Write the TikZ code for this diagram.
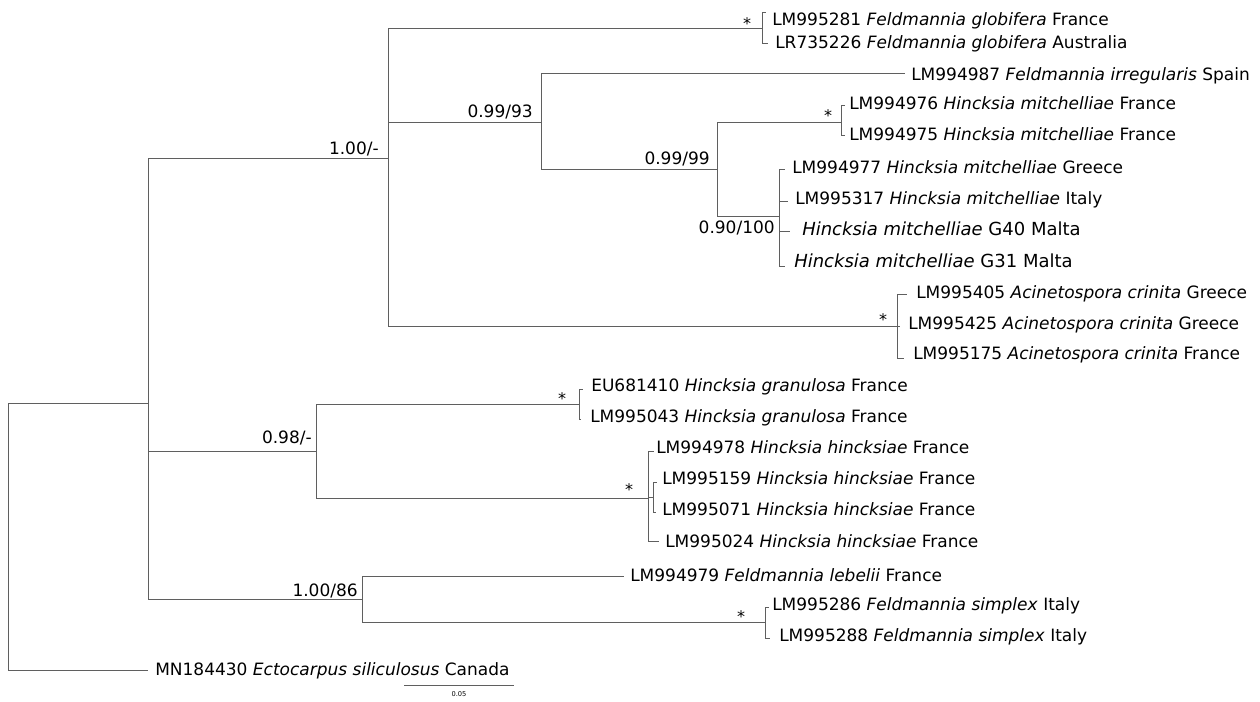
\documentclass[tikz,border=0pt]{standalone}
\usepackage{fontspec}
\setmainfont{DejaVu Sans}
\definecolor{lg}{RGB}{95,95,95}
\begin{document}
\begin{tikzpicture}[x=0.75pt,y=-0.75pt,
  br/.style={draw=lg, line width=0.75pt},
  lab/.style={anchor=west, inner sep=0pt, text height=9.5pt, text depth=2.5pt, font=\fontsize{12.75}{15}\selectfont},
  mlab/.style={anchor=west, inner sep=0pt, text height=10pt, text depth=2.6pt, font=\fontsize{13.5}{16}\selectfont},
  supp/.style={anchor=east, inner sep=0pt, text height=9.5pt, text depth=2.5pt, font=\fontsize{12.75}{15}\selectfont},
  star/.style={inner sep=0pt, font=\fontsize{12}{14}\selectfont}]
\useasboundingbox (0,0) rectangle (1260,702);
% internal nodes
\coordinate (R) at (8,536);
\coordinate (A) at (148,403);
\coordinate (B) at (388,159);
\coordinate (C) at (541,123);
\coordinate (D) at (717,170);
\coordinate (E) at (779,217);
\coordinate (F) at (316,451);
\coordinate (G) at (648,498);
\coordinate (H) at (653,497);
\coordinate (I) at (362,599);
\coordinate (glo) at (762,29);
\coordinate (mfr) at (841,123);
\coordinate (aci) at (897,326);
\coordinate (gra) at (579,404);
\coordinate (sim) at (765,622);
% tips
\coordinate (t1) at (766,13);
\coordinate (t2) at (768,44);
\coordinate (t3) at (905,74);
\coordinate (t4) at (845,106);
\coordinate (t5) at (845,136);
\coordinate (t6) at (785,170);
\coordinate (t7) at (788,202);
\coordinate (t8) at (790,232);
\coordinate (t9) at (785,267);
\coordinate (t10) at (907,295);
\coordinate (t11) at (900,326);
\coordinate (t12) at (904,358);
\coordinate (t13) at (583,389);
\coordinate (t14) at (581,419);
\coordinate (t15) at (654,451);
\coordinate (t16) at (657,482);
\coordinate (t17) at (656,512);
\coordinate (t18) at (659,541);
\coordinate (t19) at (624,576);
\coordinate (t20) at (769,607);
\coordinate (t21) at (770,638);
\coordinate (t22) at (148,670);
% branches
\draw[br] (R) |- (A);
\draw[br] (R) |- (t22);
\draw[br] (A) |- (B);
\draw[br] (A) |- (F);
\draw[br] (A) |- (I);
\draw[br] (B) |- (glo);
\draw[br] (B) |- (C);
\draw[br] (B) |- (aci);
\draw[br] (glo) |- (t1);
\draw[br] (glo) |- (t2);
\draw[br] (C) |- (t3);
\draw[br] (C) |- (D);
\draw[br] (D) |- (mfr);
\draw[br] (D) |- (E);
\draw[br] (mfr) |- (t4);
\draw[br] (mfr) |- (t5);
\draw[br] (E) |- (t6);
\draw[br] (E) |- (t7);
\draw[br] (E) |- (t8);
\draw[br] (E) |- (t9);
\draw[br] (aci) |- (t10);
\draw[br] (aci) -- (t11);
\draw[br] (aci) |- (t12);
\draw[br] (F) |- (gra);
\draw[br] (F) |- (G);
\draw[br] (gra) |- (t13);
\draw[br] (gra) |- (t14);
\draw[br] (G) |- (t15);
\draw[br] (G) |- (H);
\draw[br] (G) |- (t18);
\draw[br] (H) |- (t16);
\draw[br] (H) |- (t17);
\draw[br] (I) |- (t19);
\draw[br] (I) |- (sim);
\draw[br] (sim) |- (t20);
\draw[br] (sim) |- (t21);
% tip labels
\node[lab] (l1) at (772,21) {LM995281 \textit{Feldmannia globifera} France};
\node[lab] (l2) at (775,44) {LR735226 \textit{Feldmannia globifera} Australia};
\node[lab] (l3) at (911,76) {LM994987 \textit{Feldmannia irregularis} Spain};
\node[lab] (l4) at (849,105) {LM994976 \textit{Hincksia mitchelliae} France};
\node[lab] (l5) at (849,136) {LM994975 \textit{Hincksia mitchelliae} France};
\node[lab] (l6) at (792,169) {LM994977 \textit{Hincksia mitchelliae} Greece};
\node[lab] (l7) at (795,199.5) {LM995317 \textit{Hincksia mitchelliae} Italy};
\node[mlab] (l8) at (802,231) {\textit{Hincksia mitchelliae} G40 Malta};
\node[mlab] (l9) at (794,263) {\textit{Hincksia mitchelliae} G31 Malta};
\node[lab] (l10) at (916,293.5) {LM995405 \textit{Acinetospora crinita} Greece};
\node[lab] (l11) at (908,324.5) {LM995425 \textit{Acinetospora crinita} Greece};
\node[lab] (l12) at (913,355) {LM995175 \textit{Acinetospora crinita} France};
\node[lab] (l13) at (591,387) {EU681410 \textit{Hincksia granulosa} France};
\node[lab] (l14) at (590,418) {LM995043 \textit{Hincksia granulosa} France};
\node[lab] (l15) at (656,449) {LM994978 \textit{Hincksia hincksiae} France};
\node[lab] (l16) at (662,480) {LM995159 \textit{Hincksia hincksiae} France};
\node[lab] (l17) at (662,511) {LM995071 \textit{Hincksia hincksiae} France};
\node[lab] (l18) at (665,543) {LM995024 \textit{Hincksia hincksiae} France};
\node[lab] (l19) at (630,577) {LM994979 \textit{Feldmannia lebelii} France};
\node[lab] (l20) at (772,606) {LM995286 \textit{Feldmannia simplex} Italy};
\node[lab] (l21) at (779,637) {LM995288 \textit{Feldmannia simplex} Italy};
\node[lab] (l22) at (155,671) {MN184430 \textit{Ectocarpus siliculosus} Canada};
% support values
\node[supp] (sB) at (379,150) {1.00/-};
\node[supp] (sC) at (533,113) {0.99/93};
\node[supp] (sD) at (710,160) {0.99/99};
\node[supp] (sE) at (775,229) {0.90/100};
\node[supp] (sF) at (312,439) {0.98/-};
\node[supp] (sI) at (358,592) {1.00/86};
\node[star] (a1) at (747,24) {*};
\node[star] (a2) at (828,116) {*};
\node[star] (a3) at (883,320) {*};
\node[star] (a4) at (562,399) {*};
\node[star] (a5) at (629,490) {*};
\node[star] (a6) at (741,617) {*};
% scale bar
\coordinate (sb1) at (404,685);
\coordinate (sb2) at (514,685);
\draw[br] (sb1) -- (sb2);
\node[inner sep=0pt, font=\fontsize{5}{6}\selectfont] (sbl) at (459,694) {0.05};
\end{tikzpicture}
\end{document}
